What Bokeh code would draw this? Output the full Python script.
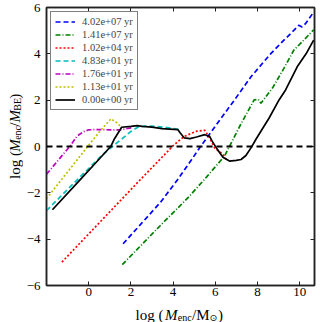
import numpy as np
from bokeh.plotting import figure
from bokeh.layouts import row, column
from bokeh.models import Span, Label, LinearAxis, FixedTicker, Range1d
from bokeh.embed import file_html
from bokeh.resources import INLINE

# ---------------- data ----------------
series_labels = ["4.02e+07 yr", "1.41e+07 yr", "1.02e+04 yr", "4.83e+01 yr",
                 "1.76e+01 yr", "1.13e+01 yr", "0.00e+00 yr"]

blue_x = [1.63, 2.5, 3.4, 4.2, 4.88, 5.3, 6.1, 6.9, 7.69, 8.63, 9.25, 9.72, 9.95, 10.11, 10.27, 10.66]
blue_y = [-4.2, -3.32, -2.41, -1.45, -0.56, 0.0, 1.0, 2.0, 3.01, 4.01, 4.59, 5.01, 5.23, 5.16, 5.3, 5.8]

green_x = [1.59, 3.47, 4.72, 5.6, 6.44, 7.2, 7.84, 8.03, 8.16, 8.7, 9.25, 9.72, 10.19, 10.66]
green_y = [-5.1, -3.34, -2.2, -1.3, -0.41, 0.95, 2.01, 2.04, 1.87, 2.51, 3.37, 4.16, 4.59, 5.04]

red_x = [-1.27, 2.5, 4.02, 4.5, 4.72, 5.11, 5.5, 5.73, 5.97, 6.36, 6.52]
red_y = [-4.99, -1.38, 0.05, 0.42, 0.51, 0.66, 0.7, 0.37, -0.06, -0.34, -0.56]

cyan_x = [-2.0, -1.0, 0.0, 0.6, 1.12, 1.6, 2.0, 2.4, 3.0, 3.7, 4.25]
cyan_y = [-2.77, -1.85, -0.95, -0.4, 0.0, 0.35, 0.65, 0.87, 0.88, 0.82, 0.74]

magenta_x = [-2.0, -1.5, -0.9, -0.55, -0.25, 0.0, 0.5, 1.0, 1.5, 2.1]
magenta_y = [-1.2, -0.65, 0.0, 0.45, 0.64, 0.72, 0.73, 0.72, 0.72, 0.82]

yellow_x = [-2.0, -0.05, 0.55, 1.05, 1.3, 1.56]
yellow_y = [-2.25, 0.0, 0.68, 1.19, 1.05, 0.82]

black_x = [-1.72, -0.4, 0.5, 1.05, 1.2, 1.56, 2.0, 2.3, 2.53, 3.0, 3.47, 4.22, 4.33, 4.53,
           4.8, 5.11, 5.5, 5.73, 5.85, 6.05, 6.36, 6.67, 6.99, 7.22, 7.45, 7.69, 7.92,
           8.16, 8.55, 9.02, 9.33, 9.88, 10.3, 10.66]
black_y = [-2.73, -1.43, -0.54, 0.01, 0.3, 0.83, 0.87, 0.9, 0.87, 0.84, 0.77, 0.73, 0.59, 0.37,
           0.34, 0.41, 0.51, 0.44, 0.23, -0.06, -0.46, -0.63, -0.6, -0.56, -0.39, -0.06, 0.3,
           0.66, 1.23, 2.01, 2.44, 3.44, 4.0, 4.59]

x_ticks = [0, 2, 4, 6, 8, 10]
y_ticks = [-6, -4, -2, 0, 2, 4, 6]
y_tick_labels = {-6: "\u22126", -4: "\u22124", -2: "\u22122", 0: "0", 2: "2", 4: "4", 6: "6"}
x_range = (-2.0, 10.7)
y_range = (-6.0, 6.0)

# ---------------- layout sizes ----------------
SERIF = "Liberation Serif"
YLAB_W = 23
MAIN_W = 297
MAIN_H = 300
XLAB_H = 22

# ---------------- main figure ----------------
p = figure(width=MAIN_W, height=MAIN_H, output_backend="svg", toolbar_location=None,
           x_range=Range1d(*x_range), y_range=Range1d(*y_range),
           min_border_left=20, min_border_right=6, min_border_top=7, min_border_bottom=15,
           x_axis_location=None, y_axis_location=None)
p.xgrid.visible = False
p.ygrid.visible = False
p.outline_line_color = "#222222"
p.outline_line_width = 1.5
p.background_fill_color = "white"
p.border_fill_color = "white"


def style_axis(ax, show_labels):
    ax.axis_line_color = "#222222"
    ax.axis_line_width = 1.5
    ax.major_tick_in = 4
    ax.major_tick_out = 0
    ax.major_tick_line_color = "#222222"
    ax.minor_tick_line_color = None
    ax.major_label_text_font = SERIF
    ax.major_label_text_font_size = "13px" if show_labels else "0px"
    ax.major_label_text_color = "black"
    ax.major_label_standoff = 2
    if not show_labels:
        ax.major_label_text_alpha = 0
        ax.major_label_standoff = 0


xb = LinearAxis(ticker=FixedTicker(ticks=x_ticks))
style_axis(xb, True)
p.add_layout(xb, "below")
yl = LinearAxis(ticker=FixedTicker(ticks=y_ticks), major_label_overrides=y_tick_labels)
style_axis(yl, True)
yl.major_label_standoff = 6
p.add_layout(yl, "left")
xt = LinearAxis(ticker=FixedTicker(ticks=x_ticks))
style_axis(xt, False)
p.add_layout(xt, "above")
yr = LinearAxis(ticker=FixedTicker(ticks=y_ticks))
style_axis(yr, False)
p.add_layout(yr, "right")

# zero line
p.add_layout(Span(location=0, dimension="width", line_color="black",
                  line_width=2, line_dash="6 4"))

styles = [
    (blue_x, blue_y, "#0000ff", "5 3"),
    (green_x, green_y, "#008000", "5 2 1 2"),
    (red_x, red_y, "#ff0000", "2 2"),
    (cyan_x, cyan_y, "#00bfbf", "5 3"),
    (magenta_x, magenta_y, "#bf00bf", "5 2 1 2"),
    (yellow_x, yellow_y, "#bfbf00", "2 2"),
    (black_x, black_y, "#000000", "solid"),
]
for (xs, ys, col, dash), lab in zip(styles, series_labels):
    p.line(xs, ys, line_color=col, line_width=1.7, line_dash=dash, legend_label=lab)

lg = p.legend[0]
lg.location = "top_left"
lg.margin = 4
lg.padding = 4
lg.spacing = 2
lg.glyph_width = 20
lg.glyph_height = 11
lg.label_height = 11
lg.label_standoff = 7
lg.label_text_font = SERIF
lg.label_text_font_size = "10.5px"
lg.label_text_baseline = "middle"
lg.border_line_color = "black"
lg.border_line_width = 1
lg.background_fill_alpha = 1.0
lg.background_fill_color = "white"


# ---------------- label panels (axis titles with sub-scripts) ----------------
def blank_fig(w, h):
    f = figure(width=w, height=h, output_backend="svg", toolbar_location=None,
               x_range=Range1d(0, w), y_range=Range1d(0, h),
               min_border=0, min_border_left=0, min_border_right=0,
               min_border_top=0, min_border_bottom=0,
               x_axis_location=None, y_axis_location=None)
    f.xgrid.visible = False
    f.ygrid.visible = False
    f.outline_line_color = None
    f.background_fill_color = "white"
    f.border_fill_color = "white"
    return f


def compose(fig, pieces, start, base, vertical, sub_shift):
    pos = start
    for txt, size, style, font, width, sub in pieces:
        cross = base
        if sub:
            cross = base + (sub_shift if vertical else -sub_shift)
        if vertical:
            lab = Label(x=cross, y=pos, angle=np.pi / 2)
        else:
            lab = Label(x=pos, y=cross)
        lab.text = txt
        lab.text_font = font
        lab.text_font_size = f"{size}px"
        lab.text_font_style = style
        lab.text_color = "black"
        lab.text_align = "left"
        lab.text_baseline = "alphabetic"
        fig.add_layout(lab)
        pos += width


x_label_pieces = [
    ("log (", 15, "normal", SERIF, 29.4, False),
    ("M", 15, "italic", SERIF, 12.8, False),
    ("enc", 10, "normal", SERIF, 14.2, True),
    ("/", 15, "normal", SERIF, 4.4, False),
    ("M", 15, "normal", SERIF, 13.3, False),
    ("\u2299", 9.5, "normal", "DejaVu Sans", 8.3, True),
    (")", 15, "normal", SERIF, 5.0, False),
]
y_label_pieces = [
    ("log (", 15, "normal", SERIF, 29.4, False),
    ("M", 15, "italic", SERIF, 12.8, False),
    ("enc", 10, "normal", SERIF, 14.2, True),
    ("/", 15, "normal", SERIF, 4.4, False),
    ("M", 15, "italic", SERIF, 12.8, False),
    ("BE", 10, "normal", SERIF, 13.0, True),
    (")", 15, "normal", SERIF, 5.0, False),
]

yfig = blank_fig(YLAB_W, MAIN_H)
compose(yfig, y_label_pieces, start=115, base=14.3, vertical=True, sub_shift=2.6)

xfig = blank_fig(YLAB_W + MAIN_W, XLAB_H)
compose(xfig, x_label_pieces, start=135, base=8, vertical=False, sub_shift=3.0)

layout = column(row(yfig, p, spacing=0), xfig, spacing=0)

open("out.html", "w").write(file_html(layout, INLINE))
